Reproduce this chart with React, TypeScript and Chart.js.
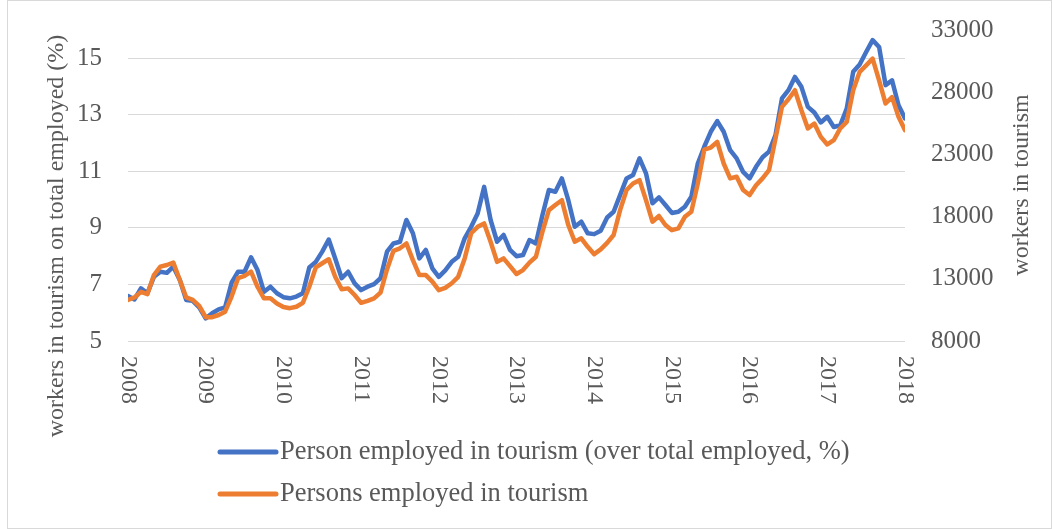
import React, { useEffect, useRef } from 'react';
import { Chart, registerables } from 'chart.js';

Chart.register(...registerables);

const START_YEAR = 2008;
const YEAR_LABELS = ['2008', '2009', '2010', '2011', '2012', '2013', '2014', '2015', '2016', '2017', '2018'];
const LEFT_TICKS = [5, 7, 9, 11, 13, 15];
const RIGHT_TICKS = [8000, 13000, 18000, 23000, 28000, 33000];
const SERIES_NAMES = [
  'Person employed in tourism (over total employed, %)',
  'Persons employed in tourism',
];
const LEFT_TITLE = 'workers in tourism on total employed (%)';
const RIGHT_TITLE = 'workers in tourism';

// monthly, Jan 2008 .. Jan 2018
const SHARE_PCT = [
  6.59, 6.47, 6.86, 6.69, 7.27, 7.45, 7.41, 7.63, 7.16, 6.45, 6.42, 6.19,
  5.80, 5.98, 6.12, 6.19, 7.06, 7.45, 7.45, 7.96, 7.51, 6.74, 6.92, 6.69,
  6.55, 6.51, 6.57, 6.69, 7.60, 7.80, 8.16, 8.59, 7.92, 7.22, 7.45, 7.04,
  6.80, 6.92, 7.01, 7.22, 8.16, 8.45, 8.51, 9.28, 8.81, 7.92, 8.22, 7.57,
  7.27, 7.50, 7.80, 7.98, 8.63, 9.04, 9.51, 10.45, 9.28, 8.51, 8.75, 8.22,
  8.00, 8.04, 8.57, 8.45, 9.45, 10.34, 10.28, 10.75, 9.98, 9.04, 9.22, 8.81,
  8.78, 8.90, 9.37, 9.57, 10.16, 10.75, 10.87, 11.46, 10.93, 9.87, 10.08, 9.81,
  9.53, 9.57, 9.75, 10.10, 11.28, 11.87, 12.40, 12.78, 12.40, 11.75, 11.46, 10.98,
  10.75, 11.16, 11.50, 11.70, 12.28, 13.58, 13.87, 14.34, 13.99, 13.28, 13.08, 12.73,
  12.93, 12.57, 12.63, 13.22, 14.52, 14.78, 15.22, 15.64, 15.40, 14.05, 14.22, 13.34,
  12.87,
];

const WORKERS = [
  11300, 11500, 11950, 11770, 13300, 13980, 14110, 14300, 12910, 11500, 11300, 10820,
  9910, 9910, 10090, 10360, 11570, 13050, 13230, 13570, 12360, 11430, 11430, 11020,
  10730, 10640, 10750, 11070, 12360, 13910, 14250, 14570, 13160, 12160, 12230, 11700,
  11070, 11230, 11430, 11890, 13750, 15250, 15450, 15840, 14500, 13300, 13300, 12770,
  12090, 12270, 12640, 13160, 14640, 16660, 17180, 17450, 15980, 14360, 14640, 14020,
  13390, 13700, 14300, 14770, 16770, 18520, 18930, 19320, 17320, 15980, 16250, 15570,
  14980, 15360, 15890, 16520, 18520, 20140, 20660, 20930, 19320, 17590, 18050, 17320,
  16910, 17050, 17980, 18390, 20660, 23390, 23550, 24000, 22270, 21070, 21200, 20140,
  19730, 20520, 21070, 21730, 24270, 26820, 27430, 28160, 26550, 25090, 25480, 24410,
  23800, 24140, 25090, 25610, 28160, 29640, 30160, 30700, 28950, 27090, 27610, 26020,
  24950,
];

const BLUE = '#4472C4';
const ORANGE = '#ED7D31';
const TEXT = '#595959';
const GRID = '#d9d9d9';
const FONT = 'Liberation Serif, Times New Roman, serif';
const TICK_FS = 25;
const TITLE_FS = 24;
const LEGEND_FS = 26.5;

const decorPlugin = {
  id: 'decor',
  beforeDraw(chart: any) {
    const ctx = chart.ctx;
    ctx.save();
    ctx.fillStyle = '#ffffff';
    ctx.fillRect(0, 0, chart.width, chart.height);
    ctx.restore();
  },
  afterDraw(chart: any) {
    const ctx = chart.ctx;
    const xs = chart.scales.x;
    const area = chart.chartArea;
    ctx.save();
    ctx.fillStyle = TEXT;
    // x labels rotated clockwise
    ctx.font = `${TITLE_FS}px ${FONT}`;
    YEAR_LABELS.forEach((lab) => {
      const px = xs.getPixelForValue(Number(lab));
      ctx.save();
      ctx.translate(px, area.bottom + 15);
      ctx.rotate(Math.PI / 2);
      ctx.textAlign = 'left';
      ctx.textBaseline = 'middle';
      ctx.fillText(lab, 0, 0);
      ctx.restore();
    });
    // left title
    ctx.font = `${TITLE_FS}px ${FONT}`;
    ctx.save();
    ctx.translate(57, 236);
    ctx.rotate(-Math.PI / 2);
    ctx.textAlign = 'center';
    ctx.textBaseline = 'middle';
    ctx.fillText(LEFT_TITLE, 0, 0);
    ctx.restore();
    // right title
    ctx.save();
    ctx.translate(1022, 185);
    ctx.rotate(-Math.PI / 2);
    ctx.textAlign = 'center';
    ctx.textBaseline = 'middle';
    ctx.fillText(RIGHT_TITLE, 0, 0);
    ctx.restore();
    // legend
    ctx.font = `${LEGEND_FS}px ${FONT}`;
    const colors = [BLUE, ORANGE];
    const rows = [452, 494];
    SERIES_NAMES.forEach((name, i) => {
      ctx.strokeStyle = colors[i];
      ctx.lineWidth = 5;
      ctx.lineCap = 'round';
      ctx.beginPath();
      ctx.moveTo(220, rows[i]);
      ctx.lineTo(276, rows[i]);
      ctx.stroke();
      ctx.textAlign = 'left';
      ctx.textBaseline = 'middle';
      ctx.fillText(name, 280, rows[i]);
    });
    // outer border
    ctx.strokeStyle = GRID;
    ctx.lineWidth = 1;
    ctx.strokeRect(7.5, 0.5, chart.width - 8, chart.height - 1);
    ctx.restore();
  },
};

export default function App() {
  const ref = useRef<HTMLCanvasElement>(null);
  useEffect(() => {
    const canvas = ref.current;
    if (!canvas) return;
    const tickFont = { family: FONT, size: TICK_FS };
    const chart = new Chart(canvas, {
      type: 'line',
      data: {
        datasets: [
          {
            label: SERIES_NAMES[0],
            data: SHARE_PCT.map((v, i) => ({ x: START_YEAR + i / 12, y: v })),
            borderColor: BLUE,
            backgroundColor: BLUE,
            borderWidth: 4.5,
            pointRadius: 0,
            tension: 0,
            borderJoinStyle: 'round',
            borderCapStyle: 'round',
            yAxisID: 'y',
            order: 1,
          },
          {
            label: SERIES_NAMES[1],
            data: WORKERS.map((v, i) => ({ x: START_YEAR + i / 12, y: v })),
            borderColor: ORANGE,
            backgroundColor: ORANGE,
            borderWidth: 4.5,
            pointRadius: 0,
            tension: 0,
            borderJoinStyle: 'round',
            borderCapStyle: 'round',
            yAxisID: 'y1',
            order: 0,
          },
        ],
      },
      options: {
        responsive: false,
        animation: false,
        layout: { padding: { top: 30, left: 0, right: 0, bottom: 0 } },
        plugins: { legend: { display: false }, tooltip: { enabled: false } },
        scales: {
          x: {
            type: 'linear',
            min: START_YEAR,
            max: START_YEAR + 10,
            grid: { display: false },
            border: { display: false },
            ticks: { display: false },
            afterFit: (s: any) => { s.height = 188; s.paddingLeft = 0; s.paddingRight = 0; },
          },
          y: {
            position: 'left',
            min: 5,
            max: 16,
            afterBuildTicks: (s: any) => { s.ticks = LEFT_TICKS.map((v) => ({ value: v })); },
            grid: { color: GRID, lineWidth: 1, drawTicks: false },
            border: { display: false },
            ticks: { font: tickFont, color: TEXT, padding: 26 },
            afterFit: (s: any) => { s.width = 128; s.paddingTop = 0; s.paddingBottom = 0; },
          },
          y1: {
            position: 'right',
            min: 8000,
            max: 33000,
            afterBuildTicks: (s: any) => { s.ticks = RIGHT_TICKS.map((v) => ({ value: v })); },
            grid: { display: false, drawTicks: false },
            border: { display: false },
            ticks: { font: tickFont, color: TEXT, padding: 26, callback: (v: any) => String(v) },
            afterFit: (s: any) => { s.width = 147; s.paddingTop = 0; s.paddingBottom = 0; },
          },
        },
      },
      plugins: [decorPlugin],
    } as any);
    return () => chart.destroy();
  }, []);
  return (
    <div style={{ position: 'fixed', left: 0, top: 0, width: 1052, height: 529 }}>
      <canvas ref={ref} width={1052} height={529} style={{ width: 1052, height: 529, display: 'block' }} />
    </div>
  );
}
